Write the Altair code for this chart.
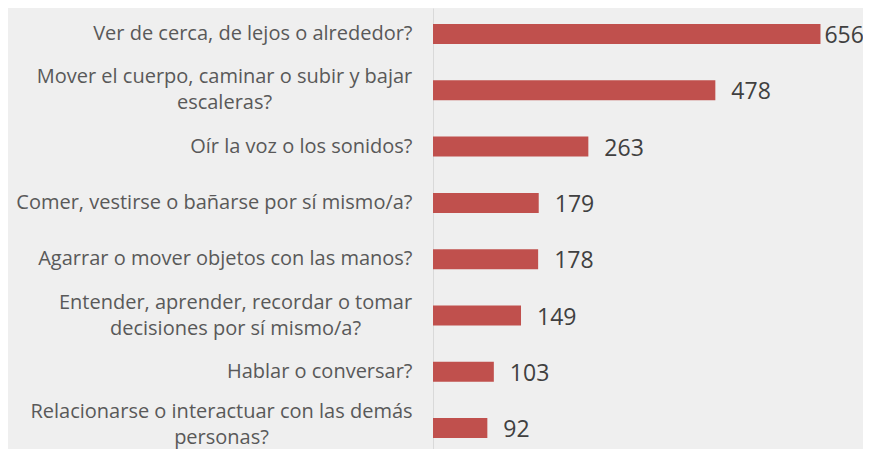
import altair as alt
import pandas as pd

categories = [
    "Ver de cerca, de lejos o alrededor?",
    "Mover el cuerpo, caminar o subir y bajar|escaleras?",
    "Oír la voz o los sonidos?",
    "Comer, vestirse o bañarse por sí mismo/a?",
    "Agarrar o mover objetos con las manos?",
    "Entender, aprender, recordar o tomar|decisiones por sí mismo/a?",
    "Hablar o conversar?",
    "Relacionarse o interactuar con las demás|personas?",
]
values = [656, 478, 263, 179, 178, 149, 103, 92]

# label layout (style): padding to centre of two-line labels, and vertical offsets
LABEL_GAP = 21
LINE_HEIGHT = 26
two_line_pad = {
    categories[1]: 209,
    categories[5]: 198,
    categories[7]: 212,
}
two_line_offset = {
    categories[1]: -13,
    categories[5]: -13,
    categories[7]: -16,
}

df = pd.DataFrame({"cat": categories, "value": values})

FONT = "Open Sans"

y_axis = alt.Axis(
    title=None,
    ticks=False,
    grid=False,
    domainColor="#D9D9D9",
    domainWidth=1,
    labelExpr="split(datum.label, '|')",
    labelFont=FONT,
    labelFontSize=20,
    labelColor="#595959",
    labelLimit=700,
    labelLineHeight=LINE_HEIGHT,
    labelOverlap=False,
    labelAlign={
        "condition": {"test": "indexof(datum.value, '|') >= 0", "value": "center"},
        "value": "right",
    },
    labelPadding={
        "condition": [
            {"test": f"datum.value === '{k}'", "value": v}
            for k, v in two_line_pad.items()
        ],
        "value": LABEL_GAP,
    },
    labelOffset={
        "condition": [
            {"test": f"datum.value === '{k}'", "value": v}
            for k, v in two_line_offset.items()
        ],
        "value": 0,
    },
)

y = alt.Y(
    "cat:N",
    sort=categories,
    title=None,
    scale=alt.Scale(paddingInner=0.645, paddingOuter=0.239, align=0.595, round=False),
    axis=y_axis,
)
x = alt.X("value:Q", title=None, axis=None,
          scale=alt.Scale(domain=[0, 728], nice=False, zero=True))

base = alt.Chart(df)

bars = base.mark_bar(color="#C0504D").encode(x=x, y=y)

labels = base.transform_joinaggregate(vmax="max(value)").transform_filter(
    "datum.value < datum.vmax"
).mark_text(
    align="left", baseline="middle", dx=16, dy=2, fontSize=23, font=FONT, color="#404040"
).encode(x=x, y=y, text="value:Q")

top_label = base.transform_joinaggregate(vmax="max(value)").transform_filter(
    "datum.value == datum.vmax"
).mark_text(
    align="left", baseline="middle", dx=4, dy=2, fontSize=23, font=FONT, color="#404040"
).encode(x=x, y=y, text="value:Q")

chart = (
    alt.layer(bars, labels, top_label)
    .properties(
        width=430,
        height=441,
        background="#EFEFEF",
        autosize=alt.AutoSizeParams(type="none"),
        padding={"left": 425, "top": 0, "right": 0, "bottom": 0},
    )
    .configure_view(stroke=None)
)

chart.save("out.html", embed_options={"renderer": "svg", "actions": False})
